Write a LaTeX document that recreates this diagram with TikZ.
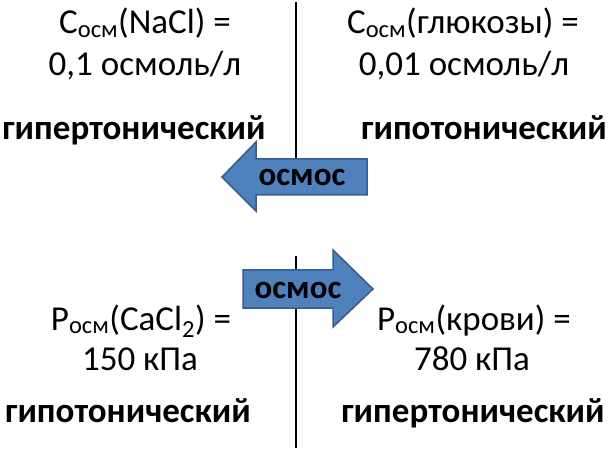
\documentclass[tikz,border=0pt]{standalone}
\usepackage{fontspec}
\setmainfont{Carlito}
\definecolor{arrfill}{HTML}{4F81BD}
\definecolor{arrline}{HTML}{385D8A}
\begin{document}
\begin{tikzpicture}[x=1bp,y=-1bp,
    txt/.style={font=\fontsize{35bp}{42bp}\selectfont, inner sep=0pt, anchor=base},
    bld/.style={txt, font=\fontsize{35bp}{42bp}\selectfont\bfseries},
    osmtxt/.style={font=\fontsize{33bp}{38bp}\selectfont\bfseries, inner sep=0pt},
    osmarrow/.style={fill=arrfill, draw=arrline, line width=1.5bp, line join=miter}]
        \useasboundingbox (0,0) rectangle (609,450);
        % membranes
        \draw[line width=2.5bp] (296,2)--(296,180);
        \draw[line width=2.5bp] (296,256)--(296,448);
        % arrows
        \draw[osmarrow] (222,177)--(256,142)--(256,159)--(367,159)--(367,195)--(256,195)--(256,211)--cycle;
        \draw[osmarrow] (373,289)--(333,250)--(333,270)--(243,270)--(243,308)--(333,308)--(333,327)--cycle;
        \node[osmtxt] (osm1) at (302,177) {осмос};
        \node[osmtxt] (osm2) at (298,290) {осмос};
        % top: concentrations
        \node[txt] (cnacl) at (145,34) {C\textsubscript{осм}(NaCl) =};
        \node[txt] (vnacl) at (145,76) {0,1 осмоль/л};
        \node[bld] (tnacl) at (134,140) {гипертонический};
        \node[txt] (cglu) at (463,34) {C\textsubscript{осм}(глюкозы) =};
        \node[txt] (vglu) at (464,76) {0,01 осмоль/л};
        \node[bld] (tglu) at (484,140) {гипотонический};
        % bottom: pressures
        \node[txt] (pcacl) at (141,330) {P\textsubscript{осм}(CaCl\textsubscript{2}) =};
        \node[txt] (vcacl) at (140,370) {150 кПа};
        \node[bld] (tcacl) at (128,422) {гипотонический};
        \node[txt] (pblood) at (474,330) {P\textsubscript{осм}(крови) =};
        \node[txt] (vblood) at (472,370) {780 кПа};
        \node[bld] (tblood) at (473,422) {гипертонический};
\end{tikzpicture}
\end{document}
